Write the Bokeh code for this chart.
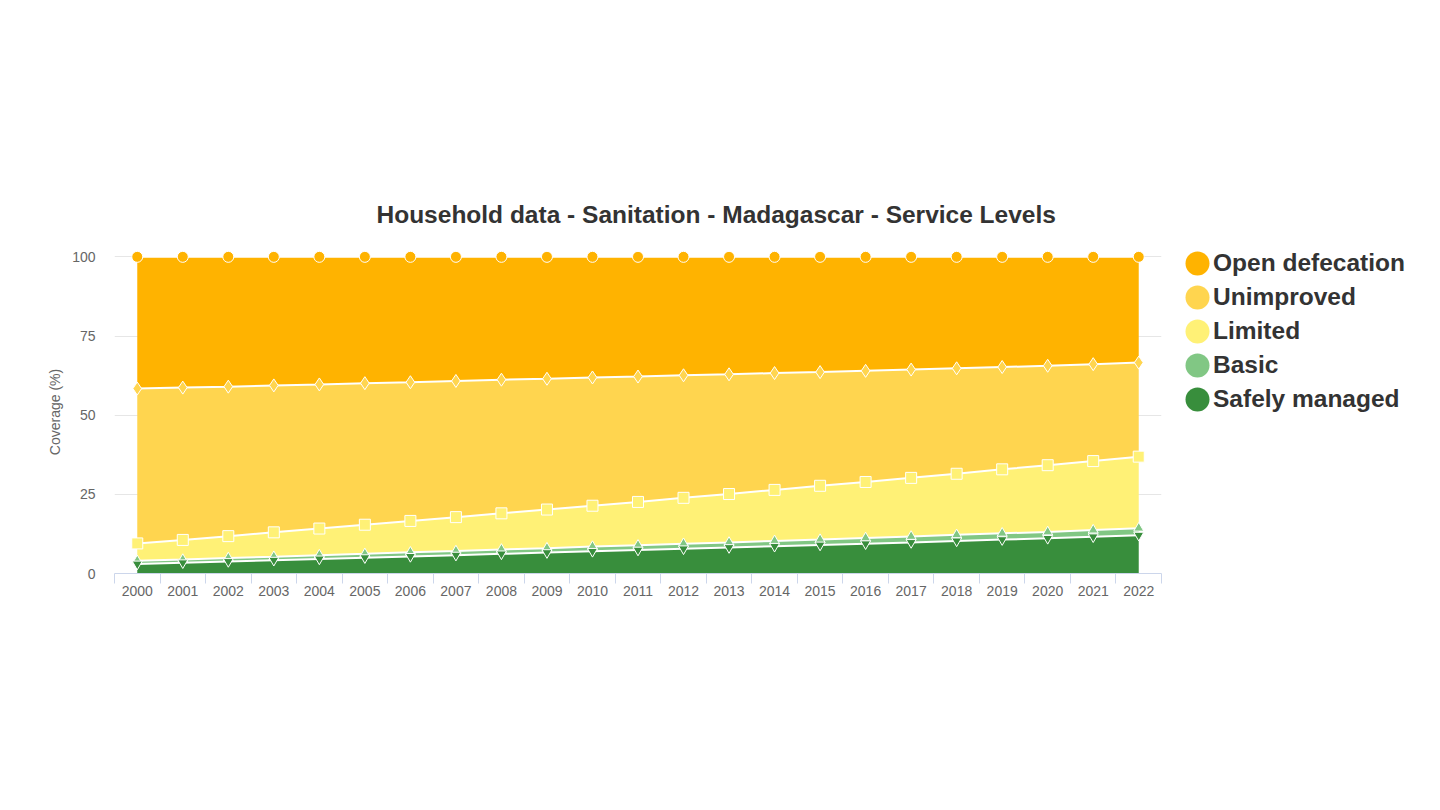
from bokeh.plotting import figure
from bokeh.layouts import row
from bokeh.models import ColumnDataSource, FixedTicker, Legend, LegendItem, Range1d
from bokeh.transform import stack
from bokeh.embed import file_html
from bokeh.resources import INLINE

years = [str(y) for y in range(2000, 2023)]
safely_managed = [3.0, 3.4, 3.8, 4.2, 4.6, 5.0, 5.4, 5.8, 6.2, 6.6, 7.0, 7.4, 7.8, 8.2, 8.6, 9.0, 9.4, 9.8, 10.3, 10.7, 11.1, 11.6, 12.1]
basic = [1.0, 1.0, 1.1, 1.1, 1.2, 1.2, 1.3, 1.3, 1.4, 1.4, 1.5, 1.5, 1.6, 1.6, 1.7, 1.7, 1.8, 1.9, 1.9, 2.0, 2.0, 2.1, 2.2]
limited = [5.5, 6.2, 6.9, 7.7, 8.4, 9.2, 9.9, 10.7, 11.4, 12.2, 12.9, 13.7, 14.5, 15.3, 16.1, 17.0, 17.7, 18.5, 19.3, 20.2, 21.1, 21.8, 22.6]
unimproved = [48.9, 48.1, 47.2, 46.4, 45.5, 44.7, 43.8, 43.0, 42.2, 41.3, 40.5, 39.6, 38.7, 37.8, 36.9, 35.9, 35.1, 34.2, 33.3, 32.3, 31.4, 30.6, 29.7]
open_defecation = [41.6, 41.3, 41.0, 40.6, 40.3, 39.9, 39.6, 39.2, 38.8, 38.5, 38.1, 37.8, 37.4, 37.1, 36.7, 36.4, 36.0, 35.6, 35.2, 34.8, 34.4, 33.9, 33.4]

series_keys = ["safely", "basic", "limited", "unimproved", "open"]
series_labels = ["Safely managed", "Basic", "Limited", "Unimproved", "Open defecation"]
series_colors = ["#388E3C", "#81C784", "#FFF176", "#FFD54F", "#FFB300"]
series_markers = ["inverted_triangle", "triangle", "square", "diamond", "circle"]
series_sizes = [10, 10, 11, 13, 11]
y_ticks = [0, 25, 50, 75, 100]

source = ColumnDataSource(dict(
    x=list(range(len(years))),
    safely=safely_managed, basic=basic, limited=limited,
    unimproved=unimproved, open=open_defecation,
))

FONT = "Liberation Sans"
W_MAIN = 1170
W_LEG = 254
H = 794

p = figure(width=W_MAIN, height=H, output_backend="svg", toolbar_location=None,
           x_range=Range1d(-0.5, len(years) - 0.5), y_range=Range1d(0, 102),
           min_border_left=114, min_border_right=9, min_border_top=250, min_border_bottom=221,
           title="Household data - Sanitation - Madagascar - Service Levels")
p.outline_line_color = None
p.background_fill_color = "white"
p.border_fill_color = "white"

p.title.align = "left"
p.title.offset = 262
p.title.text_font = FONT
p.title.text_font_size = "24.5px"
p.title.text_font_style = "bold"
p.title.text_color = "#333333"
p.title.standoff = 46

p.varea_stack(stackers=series_keys, x="x", color=series_colors, source=source)

# lines and markers, top series first so lower series sit above
for i in reversed(range(len(series_keys))):
    ys = stack(*series_keys[: i + 1])
    p.line(x="x", y=ys, source=source, line_color="white", line_width=2)
    p.scatter(x="x", y=ys, source=source, marker=series_markers[i], size=series_sizes[i],
              fill_color=series_colors[i], line_color="white", line_width=1)

xa = p.xaxis[0]
xa.ticker = FixedTicker(ticks=list(range(len(years))), minor_ticks=[i - 0.5 for i in range(len(years) + 1)])
xa.major_label_overrides = {i: y for i, y in enumerate(years)}
xa.major_tick_line_color = None
xa.minor_tick_in = 0
xa.minor_tick_out = 10
xa.minor_tick_line_color = "#ccd6eb"
xa.axis_line_color = "#ccd6eb"
xa.major_label_text_font = FONT
xa.major_label_text_font_size = "14px"
xa.major_label_text_color = "#666666"
xa.major_label_standoff = 2

ya = p.yaxis[0]
ya.ticker = FixedTicker(ticks=y_ticks)
ya.axis_line_color = None
ya.major_tick_line_color = None
ya.minor_tick_line_color = None
ya.major_label_text_font = FONT
ya.major_label_text_font_size = "14px"
ya.major_label_text_color = "#666666"
ya.major_label_standoff = 13
ya.axis_label = "Coverage (%)"
ya.axis_label_text_font = FONT
ya.axis_label_text_font_size = "14px"
ya.axis_label_text_font_style = "normal"
ya.axis_label_text_color = "#666666"
ya.axis_label_standoff = 6

p.xgrid.grid_line_color = None
p.ygrid.grid_line_color = "#e6e6e6"

# legend panel (its frame is aligned with the main plot's frame in the row)
lf = figure(width=W_LEG, height=H, output_backend="svg", toolbar_location=None,
            x_range=Range1d(0, 1), y_range=Range1d(0, 1), min_border=0)
lf.axis.visible = False
lf.grid.visible = False
lf.outline_line_color = None
lf.background_fill_color = "white"
lf.border_fill_color = "white"

nan = float("nan")
items = []
for i in reversed(range(len(series_keys))):
    # legend-only ellipse glyph: drawn at 80% of the glyph box in the legend
    r = lf.ellipse(x=[nan], y=[nan], width=24, height=24, width_units="screen", height_units="screen",
                   fill_color=series_colors[i], line_color=None)
    items.append(LegendItem(label=series_labels[i], renderers=[r]))
legend = Legend(items=items, location=(12, 159), orientation="vertical",
                glyph_width=30, glyph_height=30, spacing=4, padding=0, margin=0,
                label_standoff=1, label_text_font=FONT, label_text_font_size="24.5px",
                label_text_font_style="bold", label_text_color="#333333",
                border_line_color=None, background_fill_alpha=0)
lf.add_layout(legend)

layout = row(p, lf)
open("out.html", "w").write(file_html(layout, INLINE))
